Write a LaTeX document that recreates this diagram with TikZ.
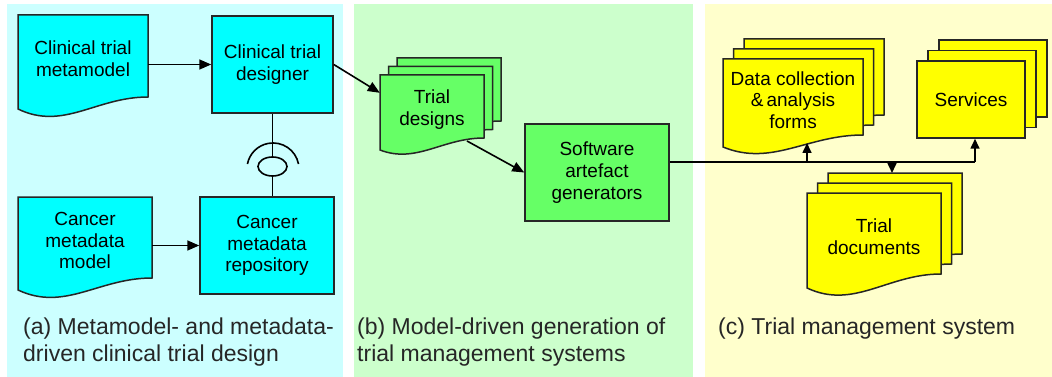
\documentclass[tikz,border=0pt]{standalone}
\usepackage{fontspec}
\setmainfont{Liberation Sans}
\usetikzlibrary{arrows.meta,shapes.geometric,calc}
\definecolor{panelA}{HTML}{CCFFFF}
\definecolor{panelB}{HTML}{CCFFCC}
\definecolor{panelC}{HTML}{FFFFCC}
\definecolor{fillA}{HTML}{00FFFF}
\definecolor{fillB}{HTML}{66FF66}
\definecolor{fillC}{HTML}{FFFF00}
\definecolor{edge}{HTML}{262626}
\newcommand{\docshape}[7]{% style, x0, x1, ytop, yL, a, k
  \draw[#1] (#2,#4) -- (#3,#4) -- (#3,{#5-#6})
    .. controls ({#2+0.6*(#3-#2)},{#5-#6}) and ({#2+0.35*(#3-#2)},{#5+#7}) .. (#2,#5) -- cycle;}
\tikzset{
  shapeA/.style={draw=edge, line width=1.5pt, fill=fillA},
  shapeB/.style={draw=edge, line width=1.5pt, fill=fillB},
  shapeC/.style={draw=edge, line width=1.5pt, fill=fillC},
  boxtext/.style={align=center, inner sep=0pt, font=\fontsize{19}{21.7}\selectfont, text=black},
  rectbox/.style={boxtext, draw=edge, line width=1.5pt},
  caption/.style={align=left, inner sep=0pt, anchor=north west, font=\fontsize{23}{26.7}\selectfont, text=black!85},
  conn/.style={draw=black, line width=1.6pt},
  arr/.style={conn, -{Triangle[length=12pt,width=10pt]}},
  sarr/.style={conn, -{Triangle[length=10pt,width=9pt]}}
}
\begin{document}
\begin{tikzpicture}[x=1pt,y=-1pt]
\useasboundingbox (0,0) rectangle (1052,377);
% panels
\fill[panelA] (7,4) rectangle (343,377);
\fill[panelB] (354,4) rectangle (693,377);
\fill[panelC] (705,4) rectangle (1052,377);

% ---------- panel (a)
\docshape{shapeA}{18}{148}{15}{109}{12}{22}
\node[boxtext, minimum width=130pt, minimum height=88pt] (ctm) at (83,59) {Clinical trial\\metamodel};
\docshape{shapeA}{18}{152}{197}{290}{12}{22}
\node[boxtext, minimum width=134pt, minimum height=87pt] (cmm) at (85,240.5) {Cancer\\metadata\\model};
\node[rectbox, fill=fillA, minimum width=121pt, minimum height=97pt] (ctd) at (272.5,64.5) {Clinical trial\\designer};
\node[rectbox, fill=fillA, minimum width=134pt, minimum height=97pt] (cmr) at (267,245.5) {Cancer\\metadata\\repository};
\node[draw=black, line width=1.6pt, ellipse, inner sep=0pt, minimum width=29pt, minimum height=19pt] (lolly) at (272.5,166.5) {};
\draw[conn] (298.5,164) arc[start angle=-11, end angle=-169, radius=26];
\draw[conn] (ctd.south) -- (lolly.north);
\draw[conn] (lolly.south) -- (lolly.south |- cmr.north);
\draw[arr] (ctm.east |- ctd.west) -- (ctd.west);
\draw[arr] (cmm.east |- cmr.west) -- (cmr.west);

% ---------- panel (b)
\docshape{shapeB}{397}{501}{58}{133}{12}{14}
\docshape{shapeB}{388.5}{492.5}{66.5}{141.5}{12}{14}
\docshape{shapeB}{380}{484}{75}{150}{12}{14}
\node[boxtext, minimum width=104pt, minimum height=69pt] (tdF) at (432,109.5) {Trial\\designs};
\node[rectbox, fill=fillB, minimum width=144pt, minimum height=97pt] (sag) at (597,172.5) {Software\\artefact\\generators};
\coordinate (tdin) at ([yshift=-18pt]tdF.north west);
\coordinate (tdout) at (467,141);
\draw[arr] (ctd.east) -- (tdin);
\draw[arr] (tdout) -- (sag.west);

% ---------- panel (c)
\docshape{shapeC}{744}{884}{39}{127}{12}{20}
\docshape{shapeC}{733.5}{873.5}{49}{137}{12}{20}
\docshape{shapeC}{723}{863}{59}{147}{12}{20}
\node[boxtext, minimum width=140pt, minimum height=82pt] (dcF) at (793,100) {Data collection\\\&\,analysis\\forms};
\draw[shapeC] (939,40) rectangle (1047,117);
\draw[shapeC] (928,50.5) rectangle (1036,127.5);
\node[rectbox, fill=fillC, minimum width=108pt, minimum height=77pt] (srvF) at (971,99.5) {Services};
\docshape{shapeC}{828}{962}{173}{268}{14}{22}
\docshape{shapeC}{817.5}{951.5}{183}{278}{14}{22}
\docshape{shapeC}{807}{941}{193}{288}{14}{22}
\node[boxtext, minimum width=134pt, minimum height=88pt] (tdocF) at (874,237) {Trial\\documents};

\coordinate (bus) at ([yshift=10.5pt]sag.east);
\coordinate (dcin) at (807,143);
\coordinate (srvin) at ([xshift=4pt]srvF.south);
\coordinate (tdocin) at (892,173);
\draw[conn] (bus) -- (bus -| srvin);
\draw[sarr] (bus -| dcin) -- (dcin);
\draw[sarr] (bus -| srvin) -- (srvin);
\draw[sarr] (bus -| tdocin) -- (tdocin);

% ---------- captions
\node[caption] (capa) at (23,318) {(a) Metamodel- and metadata-\\driven clinical trial design};
\node[caption] (capb) at (357,318) {(b) Model-driven generation of\\trial management systems};
\node[caption] (capc) at (718,318) {(c) Trial management system};
\end{tikzpicture}
\end{document}
